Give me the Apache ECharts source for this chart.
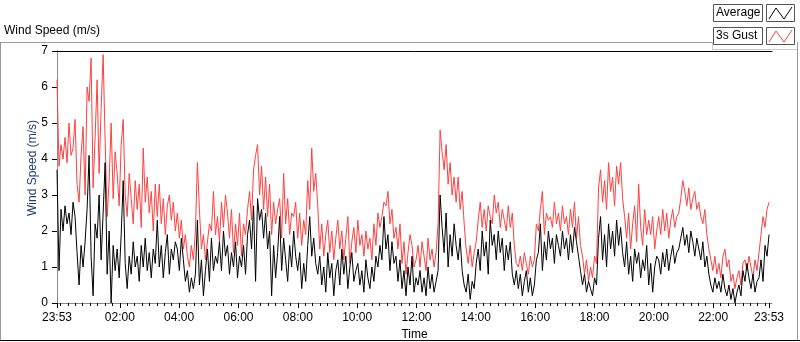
<!DOCTYPE html>
<html>
<head>
<meta charset="utf-8">
<script src="https://cdn.jsdelivr.net/npm/echarts@6/dist/echarts.min.js"></script>
<style>
  body { margin: 0; background: #fff; }
  #main { width: 800px; height: 342px; }
</style>
</head>
<body>
<div id="main"></div>
<script>
// samples every ~4 min starting 23:53
var gust = [
  6.2, 3.8, 4.4, 4.0, 4.6, 3.9, 5.0, 4.1, 4.3, 5.1,
  3.3, 2.8, 4.1, 4.9, 3.0, 6.0, 5.6, 6.8, 3.2, 4.6,
  6.2, 3.6, 5.4, 6.9, 4.5, 2.4, 3.4, 5.0, 2.9, 4.2,
  3.6, 2.7, 4.4, 5.1, 3.0, 2.4, 3.6, 2.9, 2.2, 3.4,
  2.6, 3.3, 2.1, 4.3, 2.8, 3.5, 2.5, 3.1, 2.0, 3.3,
  2.4, 3.3, 2.2, 2.9, 1.9, 2.7, 3.0, 2.3, 2.8, 2.0,
  2.5, 1.8, 2.3, 1.5, 1.9, 1.3, 1.0, 1.6, 1.2, 2.0,
  3.9, 2.6, 1.5, 1.9, 1.2, 1.7, 2.2, 2.0, 3.1, 1.9,
  2.4, 1.7, 2.8, 2.1, 3.0, 2.5, 1.8, 2.6, 1.4, 2.2,
  1.6, 2.5, 1.3, 2.2, 1.9, 2.6, 3.1, 2.3, 3.7, 4.1,
  4.4, 3.0, 3.8, 2.6, 3.5, 2.4, 3.3, 1.9, 2.8, 2.2,
  2.6, 2.9, 1.8, 3.6, 2.2, 2.9, 1.9, 2.5, 2.4, 2.8,
  1.8, 2.5, 1.6, 2.3, 1.9, 3.4, 2.6, 4.3, 3.1, 3.6,
  2.7, 1.5, 2.2, 1.3, 1.9, 2.3, 1.4, 2.0, 1.2, 1.8,
  2.3, 1.5, 2.0, 1.2, 1.8, 2.4, 1.1, 1.7, 2.1, 1.4,
  2.3, 1.6, 1.9, 1.3, 2.0, 1.5, 1.8, 1.2, 2.2, 1.6,
  2.5, 2.1, 2.4, 2.8, 2.7, 3.1, 2.2, 2.6, 1.8, 2.1,
  1.5, 2.2, 1.1, 1.7, 0.8, 1.4, 1.9, 1.6, 1.0, 1.2,
  1.6, 1.0, 1.7, 1.3, 0.9, 1.8, 1.2, 1.5, 1.0, 1.4,
  2.2, 4.8, 4.2, 3.7, 4.4, 3.3, 3.9, 3.0, 3.5, 2.8,
  3.5, 2.6, 3.1, 2.2, 1.5, 1.1, 1.6, 1.0, 1.4, 1.7,
  2.3, 2.8, 2.1, 2.6, 2.0, 2.7, 2.4, 2.2, 3.0, 2.5,
  2.8, 2.1, 2.6, 2.3, 2.0, 2.7, 2.1, 2.5, 1.6, 1.1,
  1.0, 1.3, 0.9, 1.4, 1.1, 0.8, 1.3, 1.0, 1.2, 2.2,
  2.0, 2.6, 3.1, 1.9, 2.5, 2.3, 2.4, 2.1, 2.8, 2.2,
  2.5, 2.0, 2.7, 2.2, 2.4, 1.9, 2.6, 2.1, 2.8, 1.8,
  2.4, 1.6, 1.3, 0.8, 1.2, 0.6, 1.0, 0.7, 1.3, 1.1,
  3.2, 3.7, 2.8, 3.4, 2.6, 3.9, 3.1, 3.5, 2.7, 3.8,
  3.3, 3.9, 2.9, 2.4, 1.8, 2.5, 1.5, 2.2, 2.7, 1.7,
  3.3, 2.1, 1.6, 2.6, 1.9, 2.3, 1.9, 2.4, 1.5, 2.0,
  2.4, 1.9, 2.6, 2.0, 2.5, 1.8, 2.3, 2.6, 2.1, 2.4,
  2.5, 2.9, 3.4, 3.1, 2.7, 3.2, 2.6, 2.9, 3.1, 2.6,
  2.8, 2.4, 2.2, 2.6, 1.9, 1.5, 1.2, 0.9, 1.3, 0.8,
  1.1, 0.7, 1.3, 1.5, 1.0, 1.2, 0.6, 0.8, 0.4, 0.7,
  0.9, 0.5, 1.1, 1.2, 0.9, 1.3, 1.0, 0.7, 1.2, 0.9,
  1.4, 1.9, 2.4, 2.1, 2.6, 2.8
];
var average = [
  3.7, 0.9, 2.6, 2.0, 2.7, 2.2, 2.5, 1.9, 2.8, 2.4,
  1.4, 0.5, 1.6, 1.0, 1.7, 2.6, 4.1, 1.3, 0.2, 2.2,
  1.8, 3.0, 1.2, 2.5, 3.9, 0.8, 2.0, 0.0, 1.6, 0.9,
  1.5, 0.7, 1.9, 3.4, 1.1, 0.4, 1.3, 0.8, 1.7, 1.0,
  1.3, 0.6, 1.6, 1.0, 1.8, 0.9, 1.4, 0.7, 1.5, 1.1,
  2.3, 1.0, 1.6, 0.7, 1.4, 1.9, 0.8, 1.5, 1.2, 1.7,
  1.5, 0.9, 1.8, 1.2, 0.6, 0.9, 0.3, 0.7, 0.4, 0.8,
  2.3, 0.5, 1.2, 0.2, 0.9, 1.5, 0.6, 1.8, 0.9, 1.3,
  1.1, 1.7, 0.9, 2.0, 1.3, 1.6, 0.8, 1.4, 1.0, 1.7,
  0.7, 1.3, 1.0, 1.6, 0.8, 1.9, 2.3, 1.5, 2.7, 0.6,
  2.9, 2.3, 2.6, 1.8, 2.5, 1.5, 2.0, 0.2, 1.6, 0.7,
  1.4, 2.4, 0.9, 1.8, 1.2, 0.6, 1.6, 1.0, 2.0, 1.3,
  0.9, 1.4, 0.4, 1.1, 0.6, 1.6, 2.4, 1.3, 1.8, 1.1,
  0.8, 1.3, 0.5, 1.0, 0.3, 1.4, 0.7, 1.1, 0.2, 0.9,
  1.2, 0.5, 1.5, 0.8, 1.3, 0.4, 1.0, 1.4, 0.6, 0.9,
  1.1, 0.5, 0.9, 0.3, 1.2, 0.7, 0.4, 1.0, 0.6, 1.3,
  1.0, 1.6, 1.2, 2.4, 1.5, 1.9, 0.9, 1.7, 1.1, 1.3,
  0.6, 1.2, 0.4, 0.9, 0.2, 1.0, 0.5, 1.3, 0.3, 0.7,
  0.5, 0.9, 0.3, 0.7, 0.2, 1.0, 0.4, 0.8, 0.3, 0.6,
  0.9, 3.0, 2.1, 1.4, 2.5, 1.0, 1.9, 1.3, 2.2, 1.6,
  1.2, 1.8, 0.9, 0.5, 0.3, 0.8, 0.1, 0.6, 0.4, 1.1,
  1.5, 0.9, 2.0, 1.3, 1.7, 0.8, 2.3, 1.6, 1.9, 1.2,
  2.0, 1.4, 1.8, 0.9, 1.6, 1.2, 1.7, 0.8, 0.5, 0.9,
  0.4, 0.8, 0.2, 0.6, 0.9, 0.3, 0.7, 0.2, 0.5, 1.2,
  1.4, 2.2, 0.9, 1.7, 1.2, 2.0, 1.5, 1.8, 1.1, 1.9,
  1.6, 1.3, 2.0, 1.5, 1.8, 1.2, 1.9, 1.4, 2.1, 1.7,
  1.3, 0.9, 0.5, 0.8, 0.3, 0.6, 0.4, 0.2, 0.7, 0.5,
  1.8, 2.4, 1.2, 1.9, 1.0, 2.2, 1.5, 2.0, 1.3, 2.3,
  1.6, 2.1, 1.4, 1.0, 1.7, 0.8, 1.3, 0.6, 1.5, 1.1,
  1.4, 0.7, 1.2, 0.9, 1.6, 0.5, 1.1, 0.3, 1.0, 1.3,
  1.2, 0.8, 1.4, 1.0, 1.5, 0.9, 1.3, 1.6, 1.1, 1.4,
  1.5, 1.8, 2.1, 1.6, 1.9, 1.4, 2.0, 1.7, 1.3, 1.8,
  1.5, 1.2, 1.7, 1.0, 1.3, 0.8, 0.5, 0.3, 0.7, 0.4,
  0.6, 0.3, 0.8, 0.4, 0.2, 0.5, 0.1, 0.4, 0.0, 0.3,
  0.5, 0.2, 0.9, 0.6, 1.1, 0.7, 0.4, 0.8, 0.3, 0.6,
  0.7, 1.2, 0.6, 1.6, 1.3, 1.9
];
// x axis is minutes after 23:53, one full day
var startClock = 23 * 60 + 53;
var spanMin = 1440;
var labelMins = [0, 127, 247, 367, 487, 607, 727, 847, 967, 1087, 1207, 1327, 1440];
var yTicks = [0, 1, 2, 3, 4, 5, 6, 7];

var FONT = 'Liberation Sans';

var step = spanMin / (gust.length - 1);
function pairs(arr) {
  return arr.map(function (v, i) { return [i * step, v]; });
}
function clock(m) {
  var t = Math.round(startClock + m) % 1440;
  var h = Math.floor(t / 60), mm = t % 60;
  return (h < 10 ? '0' : '') + h + ':' + (mm < 10 ? '0' : '') + mm;
}
var minorTicks = [0];
for (var m = 7; m < spanMin; m += 15) minorTicks.push(m);
minorTicks.push(spanMin);

var chart = echarts.init(document.getElementById('main'));
var option = {
  animation: false,
  backgroundColor: '#fff',
  grid: { left: 57, right: 28, top: 51, bottom: 39, outerBoundsMode: 'none', containLabel: false },
  xAxis: [
    {
      type: 'value', min: 0, max: 1446, position: 'bottom',
      axisLine: { lineStyle: { color: '#8c8c8c', width: 1 } },
      splitLine: { show: false },
      axisTick: { customValues: minorTicks, length: 3, lineStyle: { color: '#000' } },
      axisLabel: {
        customValues: labelMins, formatter: clock, margin: 9,
        color: '#000', fontFamily: FONT, fontSize: 12
      },
      name: 'Time', nameLocation: 'middle', nameGap: 26,
      nameTextStyle: { color: '#000', fontFamily: FONT, fontSize: 12 }
    },
    {
      type: 'value', min: 0, max: 1446, position: 'bottom',
      axisLine: { show: false }, splitLine: { show: false },
      axisTick: { customValues: labelMins, length: 5, lineStyle: { color: '#000' } },
      axisLabel: { show: false }
    },
    {
      type: 'value', min: 0, max: 1446, position: 'top',
      axisLine: { lineStyle: { color: '#000' } }, splitLine: { show: false },
      axisTick: { show: false }, axisLabel: { show: false }
    }
  ],
  yAxis: [
    {
      type: 'value', min: 0, max: 7, interval: 1, position: 'left',
      axisLine: { show: true, lineStyle: { color: '#000' } },
      splitLine: { show: false },
      axisTick: { show: true, length: 5, lineStyle: { color: '#000' } },
      axisLabel: {
        margin: 9, color: '#000', fontFamily: FONT, fontSize: 12,
        formatter: function (v) { return yTicks.indexOf(v) >= 0 ? String(v) : ''; }
      }
    },
    {
      type: 'value', min: 0, max: 7, position: 'right',
      axisLine: { show: true, lineStyle: { color: '#8c8c8c' } },
      splitLine: { show: false }, axisTick: { show: false }, axisLabel: { show: false }
    }
  ],
  series: [
    {
      name: '3s Gust', type: 'line', data: pairs(gust),
      showSymbol: false, lineStyle: { color: '#ff4040', width: 1 }, z: 2
    },
    {
      name: 'Average', type: 'line', data: pairs(average),
      showSymbol: false, lineStyle: { color: '#000', width: 1 }, z: 3
    }
  ],
  graphic: [
    { type: 'text', left: 4, top: 25,
      style: { text: 'Wind Speed (m/s)', font: '12px ' + FONT, fill: '#000' } },
    { type: 'line', shape: { x1: 0, y1: 42.5, x2: 712, y2: 42.5 }, style: { stroke: '#9a9a9a' } },
    { type: 'line', shape: { x1: 0.5, y1: 42, x2: 0.5, y2: 341 }, style: { stroke: '#9a9a9a' } },
    { type: 'line', shape: { x1: 797.5, y1: 42, x2: 797.5, y2: 341 }, style: { stroke: '#9a9a9a' } },
    { type: 'line', shape: { x1: 0, y1: 340.5, x2: 800, y2: 340.5 }, style: { stroke: '#000' } },
    { type: 'line', shape: { x1: 712.5, y1: 42, x2: 712.5, y2: 49 }, style: { stroke: '#c8c8c8' } },
    { type: 'line', shape: { x1: 712, y1: 49.5, x2: 797, y2: 49.5 }, style: { stroke: '#c8c8c8' } },
    // legend rows
    { type: 'rect', shape: { x: 713.5, y: 4.5, width: 49, height: 17 },
      style: { fill: '#fff', stroke: '#555' } },
    { type: 'text', x: 716, y: 13,
      style: { text: 'Average', font: '12px ' + FONT, fill: '#000', textVerticalAlign: 'middle' } },
    { type: 'rect', shape: { x: 766.5, y: 4.5, width: 28, height: 17 },
      style: { fill: '#fff', stroke: '#555' } },
    { type: 'polyline', shape: { points: [[769, 19], [776, 8], [784, 19], [792, 7]] },
      style: { stroke: '#000', fill: null } },
    { type: 'rect', shape: { x: 713.5, y: 27.5, width: 49, height: 17 },
      style: { fill: '#fff', stroke: '#555' } },
    { type: 'text', x: 716, y: 36,
      style: { text: '3s Gust', font: '12px ' + FONT, fill: '#000', textVerticalAlign: 'middle' } },
    { type: 'rect', shape: { x: 766.5, y: 27.5, width: 28, height: 17 },
      style: { fill: '#fff', stroke: '#555' } },
    { type: 'polyline', shape: { points: [[769, 42], [776, 31], [784, 42], [792, 30]] },
      style: { stroke: '#ff4040', fill: null } },
    // y axis title
    { type: 'text', x: 33, y: 168, rotation: Math.PI / 2,
      style: { text: 'Wind Speed (m/s)', font: '12px ' + FONT, fill: '#1f3f6e',
        textAlign: 'center', textVerticalAlign: 'middle' } }
  ]
};
chart.setOption(option);
</script>
</body>
</html>
